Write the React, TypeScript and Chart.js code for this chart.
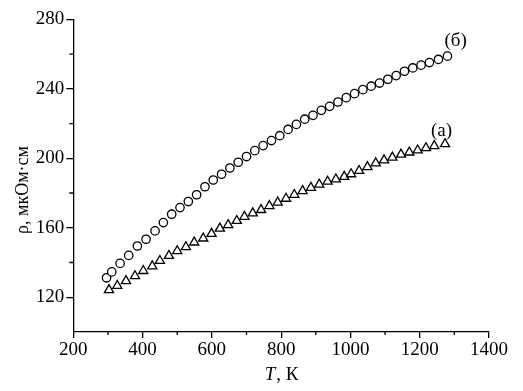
import { useEffect, useRef } from "react";
import { Chart, registerables } from "chart.js";
Chart.register(...registerables);

const tempB = [296, 311, 335, 360, 385, 410, 436, 460, 484, 508, 532, 556, 580, 604, 628, 652, 676, 700, 724, 748, 772, 796, 820, 844, 868, 892, 916, 940, 964, 988, 1012, 1036, 1060, 1084, 1108, 1132, 1156, 1180, 1204, 1228, 1254, 1280];
const rhoB = [131.2, 134.6, 139.5, 144.1, 149.5, 153.4, 158.2, 163, 167.8, 171.6, 175.1, 179, 183.6, 187.5, 190.8, 194.4, 197.7, 201, 204.4, 207.3, 210.2, 213, 216.6, 219.5, 222.5, 224.7, 227.6, 229.9, 232.4, 234.9, 237.2, 239.5, 241.5, 243.3, 245.5, 247.6, 250.1, 252, 253.6, 255.1, 256.9, 258.8];

const tempA = [303, 327, 352, 378, 402, 428, 450, 476, 500, 525, 549, 575, 599, 623, 647, 672, 694, 718, 742, 766, 790, 814, 838, 862, 886, 910, 934, 958, 982, 1002, 1025, 1049, 1073, 1097, 1121, 1146, 1170, 1194, 1218, 1242, 1273];
const rhoA = [124.2, 126.6, 129.4, 132.2, 135.2, 137.9, 141, 143.9, 146.6, 148.9, 151.6, 153.9, 156.6, 159.6, 161.6, 164, 166.4, 168.4, 170.3, 172.6, 174.6, 176.8, 179, 181.2, 183.1, 184.9, 186.6, 187.9, 189.4, 190.9, 192.8, 195, 197.2, 198.9, 200.5, 202.2, 203.4, 204.6, 205.9, 207.1, 208.2];

const xTicks = [200, 400, 600, 800, 1000, 1200, 1400];
const xMinor = [300, 500, 700, 900, 1100, 1300];
const yTicks = [120, 160, 200, 240, 280];
const yMinor = [140, 180, 220, 260];

const xTitleItalic = "T";
const xTitleRest = ", К";
const yTitle = "ρ, мкОм·см";
const labelB = "(б)";
const labelA = "(а)";

const FONT = '"Liberation Serif", "Times New Roman", serif';

export default function App() {
  const ref = useRef<HTMLCanvasElement | null>(null);
  useEffect(() => {
    const canvas = ref.current;
    if (!canvas) return;
    const overlay = {
      id: "overlay",
      afterDraw(chart: any) {
        const ctx = chart.ctx;
        const xs = chart.scales.x;
        const ys = chart.scales.y;
        const area = chart.chartArea;
        ctx.save();
        ctx.strokeStyle = "#000";
        ctx.lineWidth = 1.3;
        ctx.beginPath();
        for (const v of xMinor) {
          const px = xs.getPixelForValue(v);
          ctx.moveTo(px, area.bottom);
          ctx.lineTo(px, area.bottom + 3);
        }
        for (const v of yMinor) {
          const py = ys.getPixelForValue(v);
          ctx.moveTo(area.left, py);
          ctx.lineTo(area.left - 4, py);
        }
        ctx.stroke();

        ctx.fillStyle = "#000";
        ctx.textBaseline = "alphabetic";
        // x title
        ctx.font = `italic 19px ${FONT}`;
        const w1 = ctx.measureText(xTitleItalic).width;
        ctx.font = `19px ${FONT}`;
        const w2 = ctx.measureText(xTitleRest).width;
        const cx = (area.left + area.right) / 2;
        const start = cx - (w1 + w2) / 2;
        ctx.font = `italic 19px ${FONT}`;
        ctx.textAlign = "left";
        ctx.fillText(xTitleItalic, start, 380);
        ctx.font = `19px ${FONT}`;
        ctx.fillText(xTitleRest, start + w1 + 1, 380);

        // y title
        ctx.save();
        ctx.translate(28, 190);
        ctx.rotate(-Math.PI / 2);
        ctx.textAlign = "center";
        ctx.font = `18px ${FONT}`;
        ctx.fillText(yTitle, 0, 0);
        ctx.restore();

        // series labels
        ctx.font = `19px ${FONT}`;
        ctx.textAlign = "left";
        const bx = xs.getPixelForValue(tempB[tempB.length - 1]);
        const by = ys.getPixelForValue(rhoB[rhoB.length - 1]);
        ctx.fillText(labelB, bx - 3, by - 10);
        const ax = xs.getPixelForValue(tempA[tempA.length - 1]);
        const ay = ys.getPixelForValue(rhoA[rhoA.length - 1]);
        ctx.fillText(labelA, ax - 14, ay - 8);
        ctx.restore();
      },
    };

    const chart = new Chart(canvas, {
      type: "scatter",
      data: {
        datasets: [
          {
            label: "б",
            data: tempB.map((t, i) => ({ x: t, y: rhoB[i] })),
            pointStyle: "circle",
            pointRadius: 4.2,
            pointBorderWidth: 1.3,
            borderColor: "#000",
            backgroundColor: "#fff",
            showLine: false,
          },
          {
            label: "а",
            data: tempA.map((t, i) => ({ x: t, y: rhoA[i] })),
            pointStyle: "triangle",
            pointRadius: 5.3,
            pointBorderWidth: 1.3,
            borderColor: "#000",
            backgroundColor: "#fff",
            showLine: false,
          },
        ],
      },
      options: {
        animation: false,
        responsive: false,
        devicePixelRatio: 1,
        layout: { padding: { left: 0, right: 34, top: 19.3, bottom: 0 } },
        plugins: { legend: { display: false }, tooltip: { enabled: false } },
        scales: {
          x: {
            type: "linear",
            min: 200,
            max: 1400,
            afterBuildTicks: (s: any) => {
              s.ticks = xTicks.map((v) => ({ value: v }));
            },
            afterFit: (s: any) => {
              s.height = 59;
            },
            grid: { display: true, drawOnChartArea: false, drawTicks: true, tickLength: 6, color: "#000", lineWidth: 1.3 },
            border: { display: true, color: "#000", width: 1.3 },
            ticks: { color: "#000", font: { family: FONT, size: 19 }, padding: 1, maxRotation: 0, autoSkip: false, callback: (v: any) => String(v) },
          },
          y: {
            type: "linear",
            min: 100,
            max: 280,
            afterBuildTicks: (s: any) => {
              s.ticks = yTicks.map((v) => ({ value: v }));
            },
            afterFit: (s: any) => {
              s.width = 73.3;
            },
            grid: { display: true, drawOnChartArea: false, drawTicks: true, tickLength: 7, color: "#000", lineWidth: 1.3 },
            border: { display: true, color: "#000", width: 1.3 },
            ticks: { color: "#000", font: { family: FONT, size: 19 }, padding: 2, autoSkip: false, callback: (v: any) => String(v) },
          },
        },
      },
      plugins: [overlay],
    });
    return () => chart.destroy();
  }, []);

  return (
    <div style={{ position: "fixed", left: 0, top: 0, width: 523, height: 391, background: "#fff" }}>
      <canvas ref={ref} width={523} height={391} style={{ width: 523, height: 391, display: "block" }} />
    </div>
  );
}
